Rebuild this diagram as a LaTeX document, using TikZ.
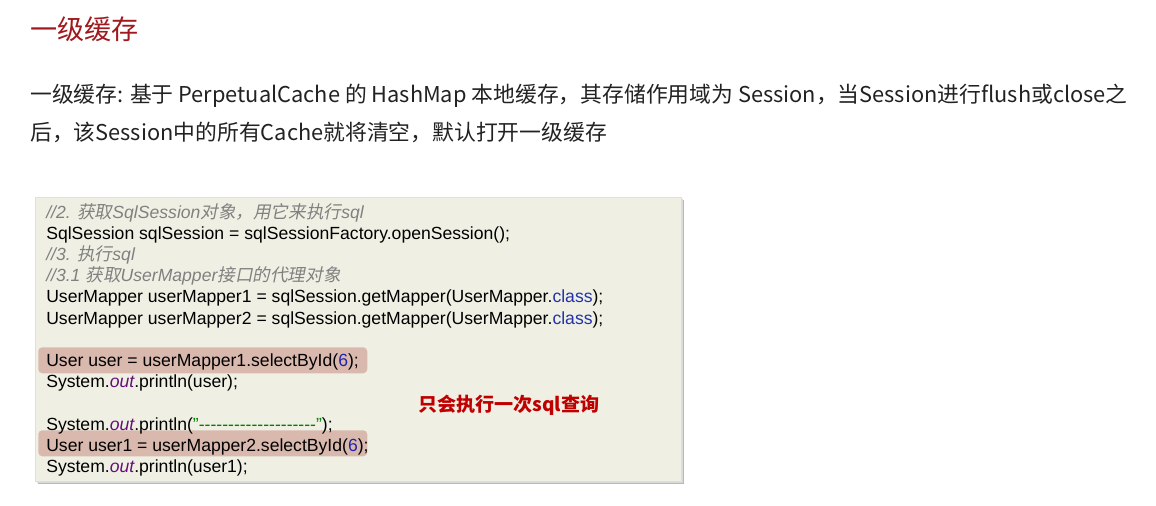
\documentclass[tikz,border=0pt]{standalone}
\usepackage{fontspec}
\setmainfont{Liberation Sans}
\newfontfamily\cjk{Noto Sans CJK SC}
\newfontfamily\cjkit{Noto Sans CJK SC}[FakeSlant=0.2]
\definecolor{titlered}{HTML}{A0191E}
\definecolor{bodytxt}{HTML}{222222}
\definecolor{codebg}{HTML}{EFF0E3}
\definecolor{hilite}{HTML}{D9B9AE}
\definecolor{cmtgray}{HTML}{808080}
\definecolor{kwblue}{HTML}{2233AA}
\definecolor{numblue}{HTML}{2222AA}
\definecolor{outpurple}{HTML}{660E7A}
\definecolor{strgreen}{HTML}{008000}
\definecolor{notered}{HTML}{C00000}
\newcommand{\cmtline}[1]{{\color{cmtgray}\itshape #1}}
\newcommand{\kwc}[1]{{\color{kwblue}#1}}
\newcommand{\numc}[1]{{\color{numblue}#1}}
\newcommand{\outc}{{\color{outpurple}\itshape out}}
\newcommand{\strc}[1]{{\color{strgreen}#1}}
\begin{document}
\begin{tikzpicture}[x=0.75pt,y=-0.75pt,
  codeline/.style={anchor=base west,inner sep=0pt,font=\fontsize{13.2}{15}\selectfont,text=black},
  bodyline/.style={anchor=base west,inner sep=0pt,font=\cjk\fontsize{16.35}{19}\selectfont,text=bodytxt},
  hlbox/.style={fill=hilite,rounded corners=3pt,draw=none},
]
\useasboundingbox[fill=white] (0,0) rectangle (1156,506);
% title
\node[anchor=base west,inner sep=0pt,font=\cjk\fontsize{20.3}{24}\selectfont,text=titlered] (title) at (30,40) {一级缓存};
% body
\node[bodyline] (body1) at (30,102.5) {一级缓存: 基于 PerpetualCache 的 HashMap 本地缓存，其存储作用域为 Session，当Session进行flush或close之};
\node[bodyline] (body2) at (30,140.5) {后，该Session中的所有Cache就将清空，默认打开一级缓存};
% code box with shadow
\fill[gray!55] (38,200) rectangle (684,484);
\fill[gray!30] (37,199) rectangle (683,483);
\draw[draw=gray!25,fill=codebg] (35,197) rectangle (681,481);
\node[hlbox,minimum width=329*0.75pt,minimum height=26*0.75pt,anchor=north west,inner sep=0pt] (hl1) at (38,347) {};
\node[hlbox,minimum width=329*0.75pt,minimum height=26*0.75pt,anchor=north west,inner sep=0pt] (hl2) at (38,430) {};
% code lines
\node[codeline] (c1) at (46,218) {\cmtline{//2. {\cjkit 获取}SqlSession{\cjkit 对象，用它来执行}sql}};
\node[codeline] (c2) at (46,239.2) {SqlSession sqlSession = sqlSessionFactory.openSession();};
\node[codeline] (c3) at (46,260.4) {\cmtline{//3. {\cjkit 执行}sql}};
\node[codeline] (c4) at (46,281.6) {\cmtline{//3.1 {\cjkit 获取}UserMapper{\cjkit 接口的代理对象}}};
\node[codeline] (c5) at (46,302.8) {UserMapper userMapper1 = sqlSession.getMapper(UserMapper.\kwc{class});};
\node[codeline] (c6) at (46,324) {UserMapper userMapper2 = sqlSession.getMapper(UserMapper.\kwc{class});};
\node[codeline] (c7) at (46,366.4) {User user = userMapper1.selectById(\numc{6});};
\node[codeline] (c8) at (46,387.6) {System.\outc.println(user);};
\node[codeline] (c9) at (46,430) {System.\outc.println(\strc{\symbol{34}{-}{-}{-}{-}{-}{-}{-}{-}{-}{-}{-}{-}{-}{-}{-}{-}{-}{-}{-}{-}\symbol{34}});};
\node[codeline] (c10) at (46,451.2) {User user1 = userMapper2.selectById(\numc{6});};
\node[codeline] (c11) at (46,472.4) {System.\outc.println(user1);};
% note
\node[anchor=base west,inner sep=0pt,font=\cjk\bfseries\fontsize{14.3}{16}\selectfont,text=notered] (note) at (418,411) {只会执行一次sql查询};
\end{tikzpicture}
\end{document}
